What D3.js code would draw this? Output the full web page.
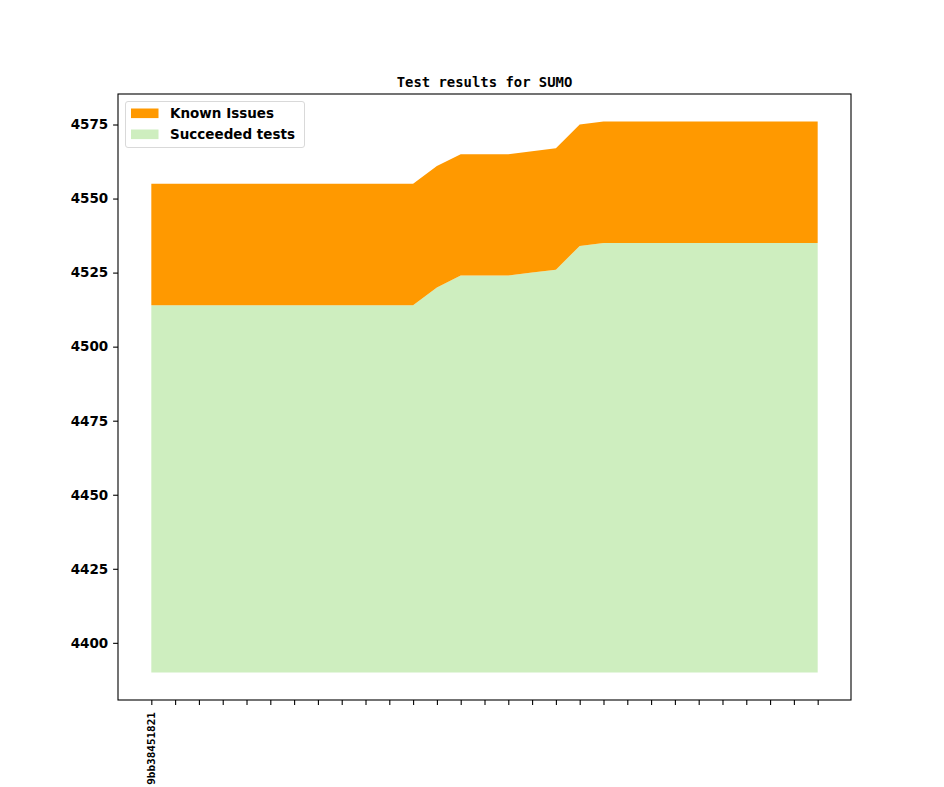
<!DOCTYPE html>
<html>
<head>
<meta charset="utf-8">
<script src="https://cdn.jsdelivr.net/npm/d3@7"></script>
<style>
  html, body { margin: 0; padding: 0; background: #fff; }
  svg { display: block; }
</style>
</head>
<body>
<svg id="chart" width="944" height="787"></svg>
<script>
// one entry per commit, only the first one carries a visible label
const commits = ['9bb38451821', '', '', '', '', '', '', '', '', '', '', '', '', '', '',
  '', '', '', '', '', '', '', '', '', '', '', '', '', ''];
const succeeded = [4514, 4514, 4514, 4514, 4514, 4514, 4514, 4514, 4514, 4514, 4514, 4514,
  4520, 4524, 4524, 4524, 4525, 4526, 4534, 4535, 4535, 4535, 4535, 4535, 4535, 4535,
  4535, 4535, 4535];
const knownIssues = [41, 41, 41, 41, 41, 41, 41, 41, 41, 41, 41, 41, 41, 41, 41, 41, 41,
  41, 41, 41, 41, 41, 41, 41, 41, 41, 41, 41, 41];
const baseline = 4390;
const yTicks = [4400, 4425, 4450, 4475, 4500, 4525, 4550, 4575];

const width = 944;
const height = 787;
const padding = { top: 94, right: 93, bottom: 87, left: 118 };
const colors = { known: '#ff9900', succeeded: '#ceeebf' };

const rows = commits.map((c, i) => ({
  i,
  label: c,
  succ: succeeded[i],
  total: succeeded[i] + knownIssues[i],
}));

// matplotlib style 5% margins
const pad = (lo, hi) => [lo - (hi - lo) * 0.05, hi + (hi - lo) * 0.05];
const x = d3.scaleLinear()
  .domain(pad(0, rows.length - 1))
  .range([padding.left, width - padding.right]);
const y = d3.scaleLinear()
  .domain(pad(baseline, d3.max(rows, d => d.total)))
  .range([height - padding.bottom, padding.top]);

const svg = d3.select('#chart');

const areaSucc = d3.area()
  .x(d => x(d.i))
  .y0(y(baseline))
  .y1(d => y(d.succ));
const areaKnown = d3.area()
  .x(d => x(d.i))
  .y0(d => y(d.succ))
  .y1(d => y(d.total));

svg.append('path')
  .attr('d', areaSucc(rows))
  .attr('fill', colors.succeeded);
svg.append('path')
  .attr('d', areaKnown(rows))
  .attr('fill', colors.known);

// frame
svg.append('rect')
  .attr('x', padding.left)
  .attr('y', padding.top)
  .attr('width', width - padding.left - padding.right)
  .attr('height', height - padding.top - padding.bottom)
  .attr('fill', 'none')
  .attr('stroke', '#000')
  .attr('stroke-width', 1.1);

const axisY = svg.append('g')
  .attr('transform', `translate(${padding.left},0)`)
  .call(d3.axisLeft(y).tickValues(yTicks).tickSize(4.9).tickPadding(4.9).tickFormat(d3.format('d')));
axisY.select('.domain').remove();
axisY.selectAll('text')
  .attr('font-family', 'DejaVu Sans')
  .attr('font-weight', 'bold')
  .attr('font-size', 13.5)
  .attr('fill', '#000');
axisY.selectAll('line').attr('stroke-width', 1.1);

const axisX = svg.append('g')
  .attr('transform', `translate(0,${height - padding.bottom})`)
  .call(d3.axisBottom(x).tickValues(rows.map(d => d.i)).tickSize(4.9).tickPadding(4.9)
    .tickFormat(i => commits[i]));
axisX.select('.domain').remove();
axisX.selectAll('line').attr('stroke-width', 1.1);
axisX.selectAll('text')
  .attr('font-family', 'DejaVu Sans Mono')
  .attr('font-weight', 'bold')
  .attr('font-size', 11)
  .attr('fill', '#000')
  .attr('transform', 'rotate(-90)')
  .attr('text-anchor', 'end')
  .attr('x', -12)
  .attr('y', 0)
  .attr('dy', '0.32em');

svg.append('text')
  .attr('x', (padding.left + width - padding.right) / 2)
  .attr('y', 86.5)
  .attr('text-anchor', 'middle')
  .attr('font-family', 'DejaVu Sans Mono')
  .attr('font-weight', 'bold')
  .attr('font-size', 13.9)
  .text('Test results for SUMO');

// legend
const legendItems = [
  { name: 'Known Issues', color: colors.known },
  { name: 'Succeeded tests', color: colors.succeeded },
];
const legend = svg.append('g').attr('transform', 'translate(125.5,101.5)');
legend.append('rect')
  .attr('width', 179)
  .attr('height', 46)
  .attr('rx', 2.5)
  .attr('fill', '#fff')
  .attr('fill-opacity', 0.8)
  .attr('stroke', '#d9d9d9')
  .attr('stroke-width', 1);
const item = legend.selectAll('g.item')
  .data(legendItems)
  .join('g')
  .attr('class', 'item')
  .attr('transform', (d, i) => `translate(5.5,${7 + i * 21})`);
item.append('rect')
  .attr('width', 27.5)
  .attr('height', 9.6)
  .attr('fill', d => d.color);
item.append('text')
  .attr('x', 39)
  .attr('y', 4.8)
  .attr('dy', '0.36em')
  .attr('font-family', 'DejaVu Sans')
  .attr('font-weight', 'bold')
  .attr('font-size', 13.5)
  .text(d => d.name);
</script>
</body>
</html>
